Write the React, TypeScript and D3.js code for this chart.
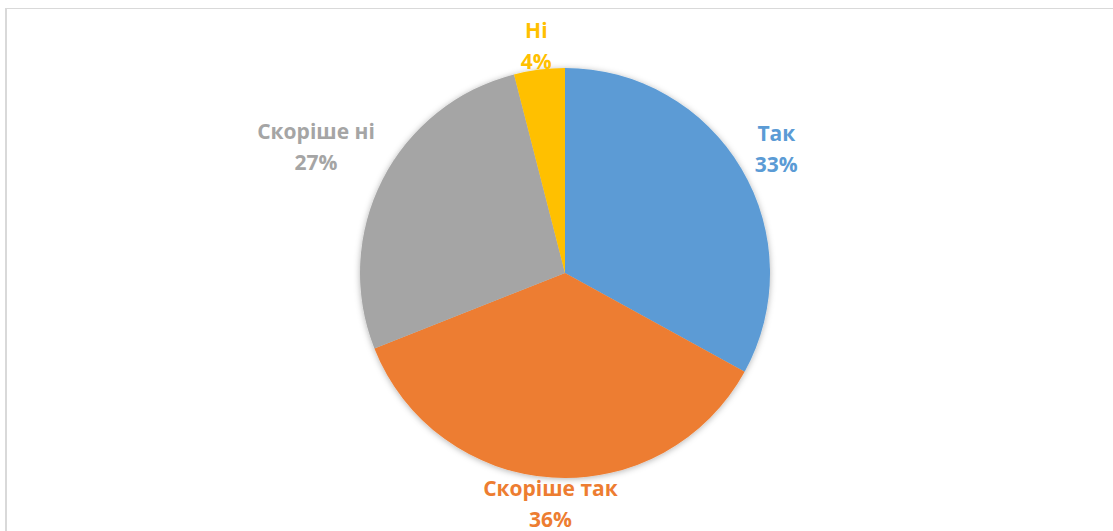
import React, { useEffect, useRef } from 'react';
import * as d3 from 'd3';

const categories = ['Так', 'Скоріше так', 'Скоріше ні', 'Ні'];
const values = [33, 36, 27, 4];
const colors = ['#5B9BD5', '#ED7D31', '#A5A5A5', '#FFC000'];

const App = () => {
  const svgRef = useRef<SVGSVGElement>(null);

  useEffect(() => {
    const svg = d3.select(svgRef.current);
    svg.selectAll('*').remove(); // Clear previous renders

    const width = 1113;
    const height = 531;
    const cx = 565;
    const cy = 273;
    const radius = 205;
    const gap = 22;

    // chart frame (only left and top edges show in the crop)
    svg.append('line')
      .attr('x1', 6).attr('x2', 6).attr('y1', 8).attr('y2', height)
      .attr('stroke', '#d9d9d9').attr('stroke-width', 2);
    svg.append('line')
      .attr('x1', 5).attr('x2', width).attr('y1', 8.5).attr('y2', 8.5)
      .attr('stroke', '#d9d9d9').attr('stroke-width', 1);

    const defs = svg.append('defs');
    const filter = defs.append('filter').attr('id', 'pieShadow')
      .attr('x', '-10%').attr('y', '-10%').attr('width', '120%').attr('height', '120%');
    filter.append('feDropShadow')
      .attr('dx', 0).attr('dy', 1).attr('stdDeviation', 3)
      .attr('flood-color', '#000').attr('flood-opacity', 0.3);

    const pie = d3.pie<number>().sort(null).value(d => d);
    const arcs = pie(values);
    const arc = d3.arc<d3.PieArcDatum<number>>().innerRadius(0).outerRadius(radius);

    const g = svg.append('g').attr('transform', `translate(${cx},${cy})`);

    g.append('g')
      .attr('filter', 'url(#pieShadow)')
      .selectAll('path')
      .data(arcs)
      .enter()
      .append('path')
      .attr('d', arc)
      .attr('fill', (d, i) => colors[i]);

    const total = d3.sum(values);

    // Labels: two lines, pushed out by the half-width of the text
    arcs.forEach((d, i) => {
      const label = g.append('text')
        .attr('text-anchor', 'middle')
        .attr('font-family', '"Open Sans", sans-serif')
        .attr('font-weight', 'bold')
        .attr('font-size', 21)
        .attr('fill', colors[i]);
      label.append('tspan').attr('x', 0).attr('dy', 0).text(categories[i]);
      label.append('tspan').attr('x', 0).attr('dy', 31)
        .text(`${Math.round((values[i] / total) * 100)}%`);

      const box = (label.node() as SVGTextElement).getBBox();
      const mid = (d.startAngle + d.endAngle) / 2;
      const r = radius + gap + Math.abs(Math.sin(mid)) * box.width / 2;
      const x = Math.sin(mid) * r;
      const y = -Math.cos(mid) * r;
      // center the two-line block on (x, y)
      const offsetY = y - (box.y + box.height / 2);
      label.attr('transform', `translate(${x},${offsetY})`);
    });
  }, []);

  return (
    <svg
      ref={svgRef}
      width={1113}
      height={531}
      style={{ position: 'absolute', left: 0, top: 0, background: '#fff' }}
    />
  );
};

export default App;
